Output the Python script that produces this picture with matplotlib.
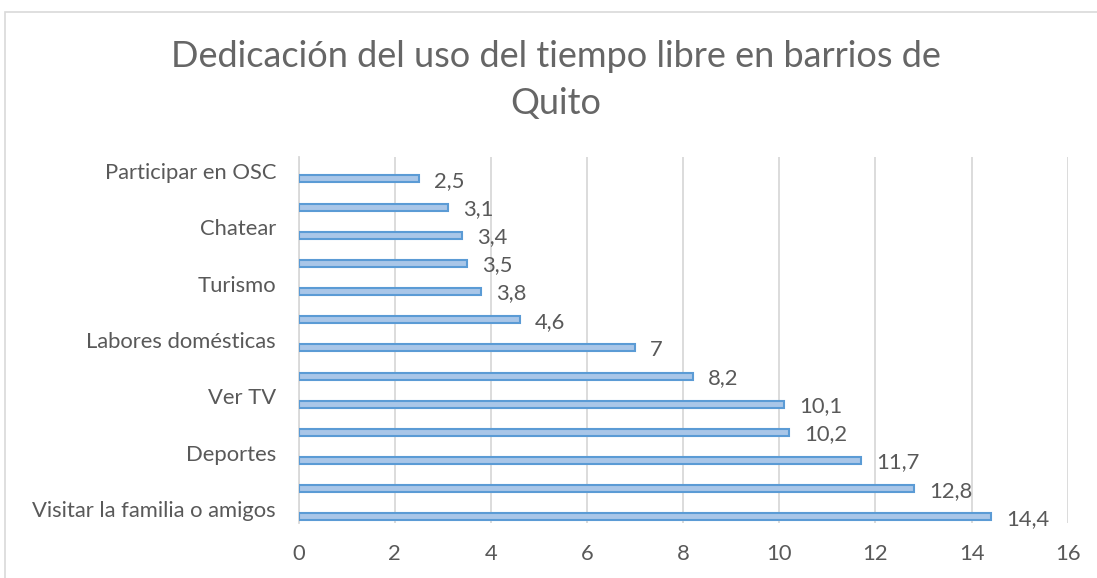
import matplotlib
matplotlib.use("Agg")
import matplotlib.pyplot as plt
from matplotlib.patches import Rectangle

plt.rcParams['font.family'] = ['Lato', 'DejaVu Sans']

categories = ["Visitar la familia o amigos", "", "Deportes", "", "Ver TV", "",
              "Labores domésticas", "", "Turismo", "", "Chatear", "", "Participar en OSC"]
values = [14.4, 12.8, 11.7, 10.2, 10.1, 8.2, 7, 4.6, 3.8, 3.5, 3.4, 3.1, 2.5]
xticks = [0, 2, 4, 6, 8, 10, 12, 14, 16]
title = "Dedicación del uso del tiempo libre en barrios de\nQuito"

W, H = 1097, 578
fig = plt.figure(figsize=(W / 100, H / 100), dpi=100)
ax = fig.add_axes([298.7 / W, 1 - 523 / H, (1067.7 - 298.7) / W, (523 - 157) / H])

text_col = '#595959'
fs = 15.8
pos = list(range(len(values)))
bar_pos = [p - 0.28 for p in pos]
ax.barh(bar_pos, values, height=0.25, color='#A9C6E8', edgecolor='#5B9BD5', linewidth=1.5, zorder=3)

for y, v in zip(bar_pos, values):
    ax.annotate(f"{v:g}".replace('.', ','), xy=(v, y), xytext=(15, -2), textcoords='offset pixels',
                ha='left', va='center', fontsize=fs, color=text_col)

ax.set_xlim(0, 16)
ax.set_ylim(-0.5, len(values) - 0.5)
ax.set_xticks(xticks)
ax.set_xticklabels([str(t) for t in xticks], fontsize=fs, color=text_col)
ax.set_yticks(pos)
ax.set_yticklabels(categories, fontsize=fs, color=text_col)
ax.tick_params(axis='both', length=0)
ax.tick_params(axis='y', pad=16.3)
ax.tick_params(axis='x', pad=15)
ax.grid(axis='x', color='#D9D9D9', linewidth=1.3, zorder=0)
for s in ['top', 'right', 'bottom']:
    ax.spines[s].set_visible(False)
ax.spines['left'].set_color('#D9D9D9')
ax.spines['left'].set_linewidth(1.3)

fig.text(556 / W, 1 - 80 / H, title, ha='center', va='center', fontsize=26,
         color='#666666', linespacing=1.5)

border = Rectangle((5 / W, -0.05), 1.1, 1 - 12 / H + 0.05, transform=fig.transFigure,
                   fill=False, edgecolor='#D9D9D9', linewidth=1.2, clip_on=False)
fig.add_artist(border)

fig.savefig("out.png", dpi=100, facecolor='white')
